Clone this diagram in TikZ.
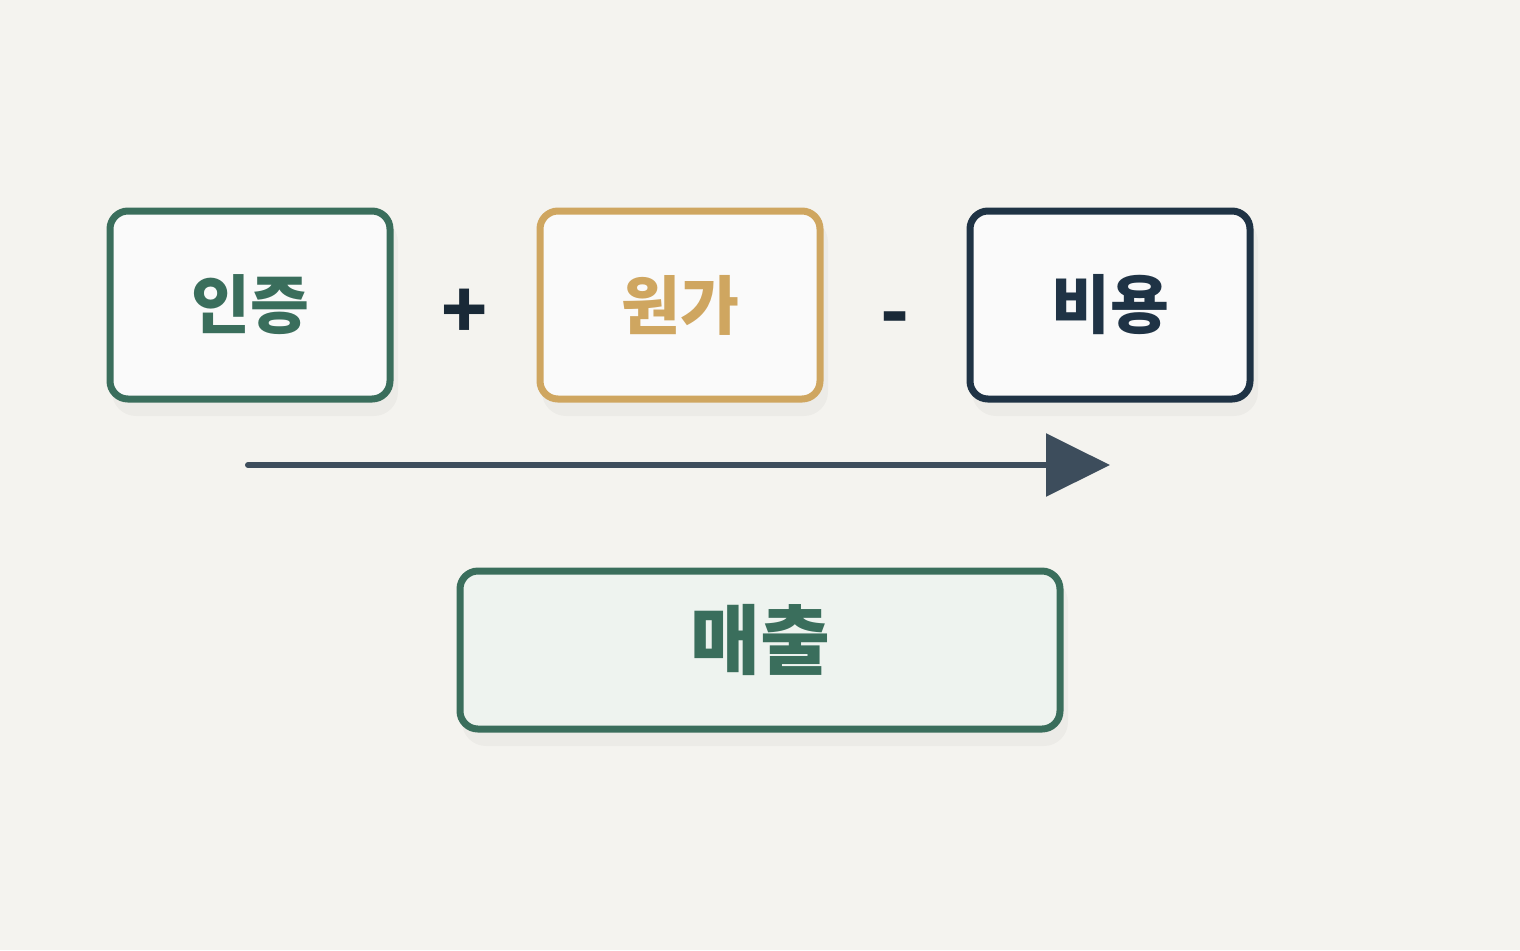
\documentclass[tikz,border=0pt]{standalone}
\usepackage{fontspec}
\newfontfamily\kr{Noto Sans CJK KR}[BoldFont={* Black}]
\usetikzlibrary{arrows.meta}
\definecolor{bg}{HTML}{F4F3EF}
\definecolor{grn}{HTML}{3A6E5C}
\definecolor{gold}{HTML}{CFA660}
\definecolor{navy}{HTML}{1F3345}
\definecolor{arr}{HTML}{3D4D5C}
\definecolor{boxf}{HTML}{FAFAFA}
\definecolor{lgrn}{HTML}{EEF3EF}
\begin{document}
\begin{tikzpicture}[x=0.5pt,y=-0.5pt,
  box/.style={draw=#1,line width=3.5pt,rounded corners=9pt,fill=boxf,minimum width=140pt,minimum height=94pt,text=#1,font=\kr\bfseries\fontsize{32}{36}\selectfont},
  op/.style={text=navy!80!black,font=\kr\bfseries\fontsize{38}{40}\selectfont}]
\fill[bg] (0,0) rectangle (1520,950);
\foreach \x/\y/\w/\h in {250/305/280/190,680/305/280/190,1110/305/280/190,760/650/600/160}
  \fill[black,opacity=0.03,rounded corners=12pt] (\x-\w/2+2,\y-\h/2+8) rectangle (\x+\w/2+8,\y+\h/2+16);
\node[box=grn] (a) at (250,305) {인증};
\node[box=gold] (b) at (680,305) {원가};
\node[box=navy] (c) at (1110,305) {비용};
\node[op] (p) at (465,314) {+};
\node[op] (m) at (895,325) {-};
\node[box=grn,fill=lgrn,minimum width=300pt,minimum height=79pt] (s) at (760,650) {};
\node[text=grn,font=\kr\bfseries\fontsize{38}{40}\selectfont] (st) at (760,640) {매출};
\coordinate (s1) at (248,465);
\coordinate (e1) at (1110,465);
\draw[arr,line width=3pt,line cap=round,-{Triangle[length=32pt,width=31pt]}] (s1) -- (e1);
\end{tikzpicture}
\end{document}
